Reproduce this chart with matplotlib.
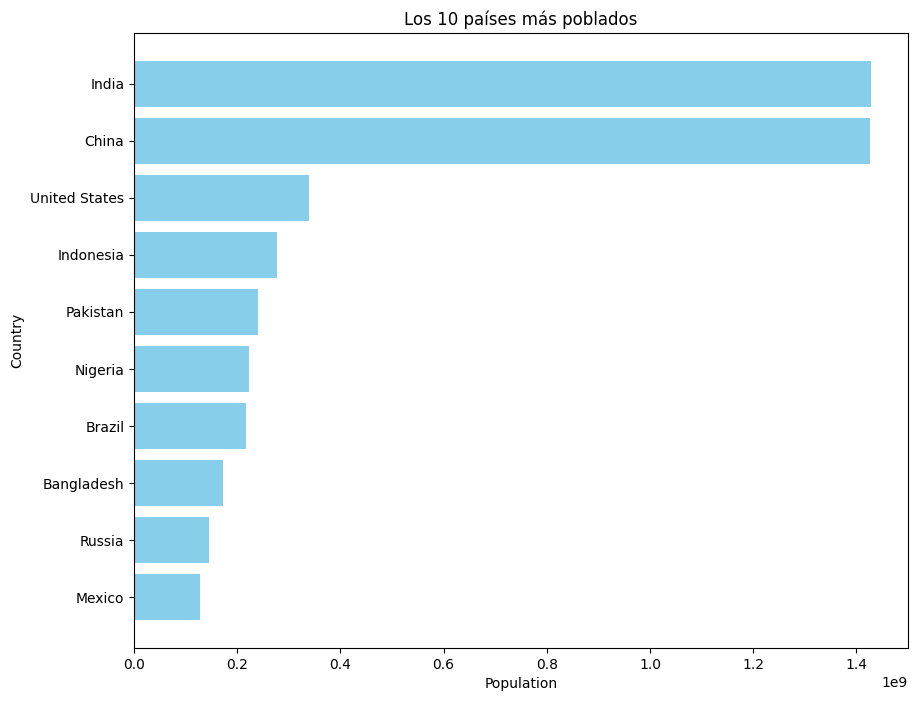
import matplotlib
matplotlib.use("Agg")
import matplotlib.pyplot as plt

# top 10 countries by population (2023)
countries = ["India", "China", "United States", "Indonesia", "Pakistan",
             "Nigeria", "Brazil", "Bangladesh", "Russia", "Mexico"]
population = [1428627663, 1425671352, 339996563, 277534122, 240485658,
              223804632, 216422446, 172954319, 144444359, 128455567]

fig = plt.figure(figsize=(9.18, 7.02), dpi=100)
ax = fig.add_axes([134/918, 1 - 648/702, (908 - 134)/918, (648 - 33)/702])

ax.barh(countries, population, color="skyblue")
ax.invert_yaxis()
ax.set_xlabel("Population")
ax.set_ylabel("Country")
ax.set_title("Los 10 países más poblados")

fig.savefig("out.png", dpi=100)
